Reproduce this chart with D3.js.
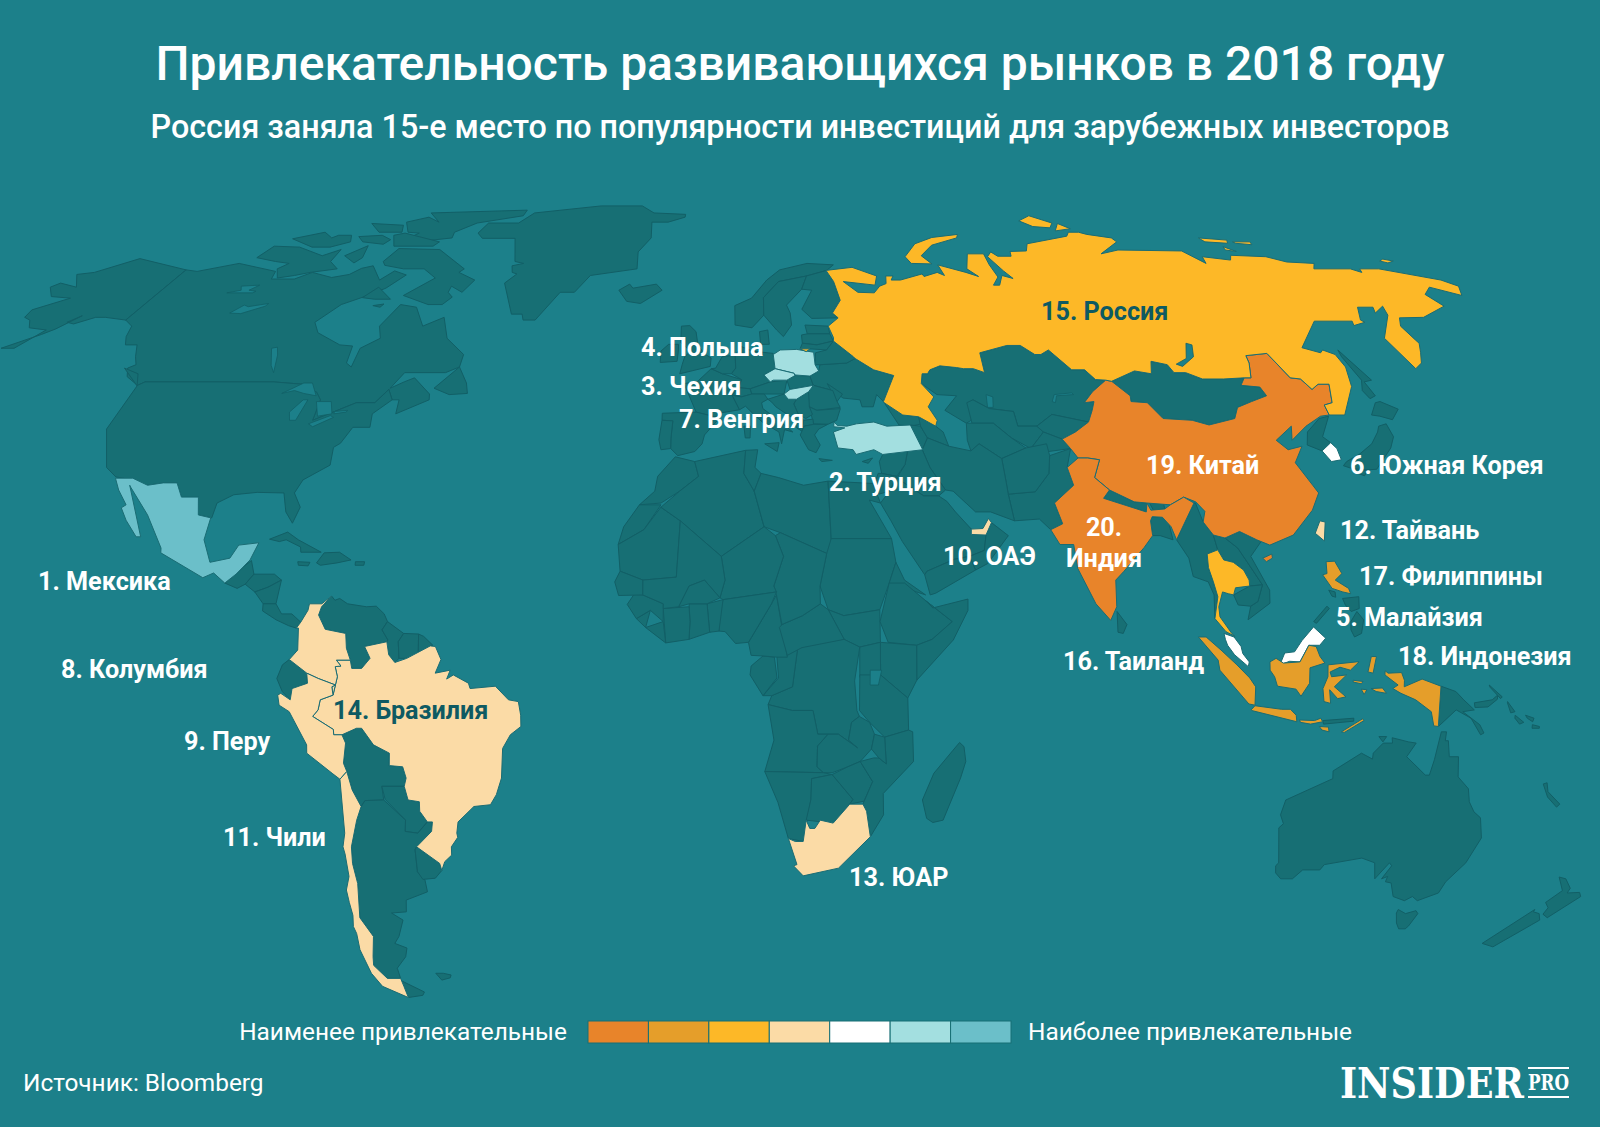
<!DOCTYPE html>
<html><head><meta charset="utf-8"><script src="https://cdn.jsdelivr.net/npm/d3@7"></script>
<style>html,body{margin:0;padding:0;background:#1c808a}svg{display:block}text{font-family:Roboto,sans-serif}</style></head><body>
<svg id="c" width="1600" height="1127"></svg>
<script>
const titleText="Привлекательность развивающихся рынков в 2018 году";
const subtitleText="Россия заняла 15-е место по популярности инвестиций для зарубежных инвесторов";
const legendLow="Наименее привлекательные", legendHigh="Наиболее привлекательные", sourceText="Источник: Bloomberg";
const rankedCountries=["Мексика","Турция","Чехия","Польша","Малайзия","Южная Корея","Венгрия","Колумбия","Перу","ОАЭ","Чили","Тайвань","ЮАР","Бразилия","Россия","Таиланд","Филиппины","Индонезия","Китай","Индия"];
const rankBins=[6,5,5,5,4,4,5,3,3,3,3,3,3,3,2,2,1,1,0,0];
const binColors=["#e8842a","#e59e2a","#fdb827","#fbdba6","#ffffff","#a3dfe0","#6bbfc9"];
const latGrid=[0,5,10,15,20,25,30,35,40,45,50,55,60,65,70,75,80,85,90];
const plenX=[1,.9986,.9954,.99,.9822,.973,.96,.9427,.9216,.8962,.8679,.835,.7986,.7597,.7186,.6732,.6213,.5722,.5322];
const plenY=[0,.062,.124,.186,.248,.31,.372,.434,.4958,.5571,.6176,.6769,.7346,.7903,.8435,.8936,.9394,.9761,1];
const northAmerica=[
["США","-159,54.5 -156,57.8 -160.6,58.2 -162.5,59.6 -164.5,60.1 -165,61.5 -159,63.7 -164.3,64 -167.7,65.8 -166.5,66.6 -161,65.8 -165.4,68.3 -161.5,68.7 -154.6,71.5 -138,69.2 -139.4,59.6 -145,60.1 -147.3,60.1 -151,58.9 -153,59.2 -151,60.4 -154,58 -156,57 -162,54.5"],
["Канада","-138,69.2 -134.6,68.9 -125.8,70.5 -113.8,68.9 -113,67.4 -107,67.4 -103.8,68.7 -97.6,67.7 -93.6,68.3 -91.6,69.5 -89,70 -84.6,67.2 -82.3,69 -78.5,68.2 -81.5,65.6 -85.8,63.9 -90,62.5 -93.5,59.2 -91.2,57.3 -84.4,55.1 -81.3,54.9 -80.8,51.9 -79.3,51.2 -79.3,54.5 -75.8,56.3 -77.5,58.5 -75.3,62.5 -71,62 -67.2,58.5 -63,60.1 -60.2,56.3 -55,53.4 -55,51.2 -57.7,50.2 -66.8,50.2 -68.8,47.5 -66.2,48.6 -64.2,49.3 -59.8,46.5 -59.5,45.5 -65.8,43.1 -66,45.5 -67.5,45.5 -69,47.3 -71,45 -75,45 -79,43.5 -83,42 -83,45.5 -84.5,46.8 -88.5,48.2 -95,48.6 -123.3,48.6 -124.5,48 -128,49.5 -129.3,51 -128,51.6 -129.5,53 -131.3,55.1 -134,55.1 -135.6,56.6 -136.6,58.5 -139.4,59.6"],
["США","-123.3,48.6 -95,48.6 -88.5,48.2 -84.5,46.8 -83,45.5 -83,42 -79,43.5 -75,45 -71,45 -69,47.3 -67.5,45.5 -70.8,43.1 -70.4,40.8 -74,40.8 -75.6,38.1 -76.8,37.4 -76.5,34.4 -81.3,31.9 -82.4,29.7 -80.7,27.3 -81.7,24.6 -83.4,26.5 -84.5,29.7 -89.9,29.8 -94.5,29.4 -97.5,28 -97.9,25.5 -100.7,26 -101.5,29 -104.9,29 -106.6,31.4 -109.4,31.4 -112.4,31 -117.8,32.2 -119.4,32.4 -122,34 -125.6,40.5 -124.5,48"],
["Мексика","-119.4,32.2 -115.9,32.2 -112.4,31 -109.4,31.4 -106.6,31.4 -104.9,29 -101.5,29 -100.7,26 -98.1,25.5 -98.7,21.8 -96.9,18 -93.1,18.7 -91.7,20.9 -87.8,21.3 -89.1,18.4 -90.3,17.2 -91.5,16 -93.5,14.5 -95.9,16.2 -97.9,15.4 -106.8,19.6 -106.9,20.4 -110.8,26 -115.7,30.7 -116,31 -111.3,22.3 -112.2,22.3 -114.8,25.1 -116.4,27.2 -115.6,27.7 -117.9,30.2"],
["Гватемала","-93.5,14.5 -91.5,16 -90.3,17.2 -88.8,18.3 -88,16 -89.5,14.3 -91,13.6"],
["Гондурас","-89.5,14.3 -88,16 -84,16 -82.5,15 -85,13.8 -87.5,13"],
["Никарагуа","-87.5,13 -85,13.8 -82.5,15 -83.2,11 -85.7,11"],
["Панама","-85.7,11 -83.2,11 -82,9.3 -80,9.3 -78.2,7.9 -79,6.9 -80.5,7.3 -83,8.3 -85.7,9.8"],
["Куба","-85.8,21.9 -82.4,23.1 -80.1,21.8 -75.3,19.7 -75.7,19.7 -79.3,19.7 -79.5,20.6 -82.5,21.8 -83.8,21.5"],
["Гаити","-76,17.9 -74.7,19.6 -71.7,19.7 -69.3,18.4 -72,17.9 -75.2,17.5"],
["Ямайка","-79.7,18.1 -77.3,18 -77.6,17.4 -79.5,17.5"],["Пуэрто-Рико","-68.4,18.1 -66.6,18.1 -66.7,17.5 -68.4,17.5"],
["Виктория","-122.9,71.7 -121.9,74.1 -114.4,73.9 -105.5,72.1 -102,73.4 -101.6,70.9 -98,69.4 -104.4,68.7 -107.8,68.1 -111.7,67.6 -114,69.4 -112.3,70.5 -116.6,70.9"],
["Сомерсет","-99.3,72.1 -95.4,74.2 -93.9,71.7 -94.9,70.6"],
["Баффинова","-87.3,70.9 -86,73.6 -74.3,73.4 -64.1,69.4 -65,68.7 -59.8,67.2 -61.5,64.8 -65,66 -65,64.8 -63.4,63.9 -65,62.5 -68.5,62.5 -75.9,64.2 -70.4,67.6 -74.8,69.4 -80.3,69.4 -86,70.1"],
["Саутгемптон","-85.9,63.8 -83.5,65.8 -78.6,63.5 -82.6,63.5"],["Коутс","-82,62.3 -79.5,62.6 -80,62"],
["Элсмир","-91.8,79.5 -86.7,80.8 -81.8,79.5 -87.7,82 -57.6,82.8 -57.4,81.2 -69.8,79.3 -74.2,77.2 -73.4,75.9 -80.6,75.2 -86,75.9 -84.4,77 -88,77.2"],
["Мелвилл","-119.4,75.7 -112.6,77.2 -108.4,75.9 -107.4,76.5 -103.6,76.5 -101.5,75 -105.8,73.9 -110.9,73.9"],
["Батерст","-101,76.2 -94.6,76.5 -90.7,75.5 -91.5,74.5 -98,75"],["Аксель-Хейберг","-102,79.2 -91.7,78.8 -89.8,77.2 -96.6,77.2"],
["Девон","-91.2,76.5 -88.6,77 -76,75 -76.9,74.1 -88,74.1"],
["Ньюфаундленд","-59.2,47.5 -55,51.2 -52.4,48.4 -51.6,46.6 -55.5,46.4"],
["Ванкувер","-130,51 -124.5,47.9 -126,50"],
["Гренландия","-67,77 -66.3,79.3 -57.1,79.3 -54.5,82 -34.3,84 -20.6,84 -16.2,82 -6,81.6 -6.1,80.8 -11.2,79.5 -16.2,79.5 -15.5,75.9 -18.5,72.9 -18,69.4 -30,68.1 -33,64.8 -36.6,64.8 -40.8,59.6 -43.7,59.6 -44.4,60.7 -47,60.7 -51.7,66.6 -49.5,68.4 -50.9,68.7 -51.7,70 -48.9,70.5 -51.5,70.9 -55,75.8 -64.5,75.8"],
["Исландия","-21.8,65.2 -19.3,66.4 -18.3,65.6 -12.4,66.4 -10.8,65.2 -15.9,62.7 -19.4,63.1"]];
const southAmerica=[
["Венесуэла","-72.5,12.3 -74.3,10.5 -74.8,9.1 -73.4,6.7 -69.4,6 -69.2,3.5 -68.4,1.5 -68.1,.1 -66.2,.1 -64.6,1.8 -65.7,3.8 -61.4,4.6 -61.2,4.9 -62.4,6.6 -61.4,8 -62.1,9.3 -63.7,10.6 -65.6,10.5 -69.3,11 -70.9,11.9 -71.8,11.6"],
["Гайана","-61.4,8 -58.2,6 -59.2,4.6 -59,1.8 -59.8,1.1 -61,2.4 -61.4,4.6 -61.2,4.9 -62.4,6.6"],
["Суринам","-58.2,6 -55.3,5.9 -55.3,2.1 -57.5,1.8 -59,1.8 -59.2,4.6"],
["Гвиана","-55.3,5.9 -54.3,5.5 -52.5,4 -53,3.9 -54.8,2.1 -55.3,2.1"],
["Эквадор","-80.2,1.6 -76.8,-.7 -76.7,-2.4 -79.7,-3.3 -80.1,-5.2 -81.6,-3.8 -82.6,-1.6 -81.5,.7"],
["Боливия","-70.4,-11.1 -67.5,-10 -66.5,-10 -64.4,-12.8 -61.4,-14.2 -61.6,-16.3 -59,-16.5 -58.5,-18.4 -59,-19.8 -63.4,-19.8 -63.3,-22.1 -67,-22.2 -67.9,-23.2 -69.3,-20.4 -70,-17.3 -70.5,-15.9 -69.8,-12.5"],
["Парагвай","-63.4,-19.8 -59,-19.8 -58.5,-22.1 -56.3,-22.4 -56.4,-24 -55.1,-25.8 -57.3,-27.7 -59.8,-27.4 -59.4,-25.5 -63,-22"],
["Аргентина","-67,-22.2 -63.3,-22.1 -59.4,-25.5 -59.8,-27.4 -57.3,-27.7 -55.1,-25.8 -54.1,-25.8 -54.5,-27.4 -57.9,-30 -58.3,-30.5 -58.6,-34.2 -57.4,-35.6 -57.4,-37.6 -62.2,-39 -62.8,-41 -66,-41.2 -64,-42.4 -65.9,-45.2 -67.3,-46.4 -65,-47.2 -65.9,-48.7 -68.7,-50.7 -68.9,-52.5 -71.9,-52.5 -73.7,-50.2 -73.1,-48.7 -71.4,-45.2 -73,-42 -71.4,-36.2 -71.5,-32.8 -71,-30 -69.1,-25.5 -67.9,-23.2"],
["Аргентина","-69.2,-52.8 -64.7,-54.9 -65.4,-55.5 -69,-55.9 -68.9,-53.9"],
["Уругвай","-57.9,-30 -53.8,-32.8 -53.6,-34 -55.2,-35.3 -57.8,-35.5 -58.6,-34.2 -58.3,-30.5"],
["Фолкленды","-60.5,-51.6 -58.8,-51.6 -57.2,-51.9 -57.6,-52.4 -59.7,-52.8"],
["Бразилия","-65.7,3.8 -61.4,4.6 -61,2.4 -59.8,1.1 -57.5,1.8 -53,3.9 -52,3.8 -50.9,1.6 -52,-.7 -49.1,-.2 -49.8,-1.7 -48.5,-1 -45.6,-2.4 -45.3,-3.3 -40.4,-2.9 -37.9,-5.2 -36,-5.5 -35.6,-7.8 -35.6,-9.7 -37.7,-11.1 -39.3,-13.4 -39.8,-18.4 -41,-21.2 -42.3,-22.9 -45.6,-23.2 -49,-25.8 -49.5,-27.7 -49.4,-28.4 -50.9,-30 -51.1,-31.4 -52.7,-32.5 -53.6,-34 -53.8,-32.8 -57.9,-30 -54.5,-27.4 -54.1,-25.8 -55.1,-25.8 -56.4,-24 -56.3,-22.4 -58.5,-22.1 -59,-19.8 -58.5,-18.4 -59,-16.5 -61.6,-16.3 -61.4,-14.2 -64.4,-12.8 -66.5,-10 -67.5,-10 -70.4,-11.1 -72,-11.1 -72,-10.2 -75.9,-8 -74.8,-6.9 -74.3,-5.2 -71.8,-4.4 -70.9,-1.3 -71.3,.4 -70.2,.5 -71.1,1.5 -68.4,1.5 -68.1,.1 -66.2,.1 -64.6,1.8"],
["Колумбия","-72.5,12.3 -74.3,10.5 -74.8,9.1 -73.4,6.7 -69.4,6 -69.2,3.5 -68.4,1.5 -71.1,1.5 -70.2,.5 -71.3,.4 -70.9,-1.3 -71.8,-4.4 -72,-3 -71.3,-2.7 -74.6,-1.6 -76.8,-.7 -80.2,1.6 -78.6,3.2 -78.6,6.9 -79,6.9 -78.2,7.9 -76.9,9.9 -76.7,11 -74.3,11"],
["Перу","-80.1,-5.2 -79.7,-3.3 -76.7,-2.4 -76.8,-.7 -74.6,-1.6 -71.3,-2.7 -72,-3 -71.8,-4.4 -74.3,-5.2 -74.8,-6.9 -75.9,-8 -72,-10.2 -72,-11.1 -70.4,-11.1 -69.8,-12.5 -70.5,-15.9 -70,-17.3 -71.5,-18.6 -72.9,-17.6 -77.5,-14.2 -77.4,-12.8 -80.4,-7.2 -82.3,-6.1 -82.5,-4.4 -81.9,-4.1"],
["Чили","-71.5,-18.6 -70,-17.3 -69.3,-20.4 -67.9,-23.2 -69.1,-25.5 -71,-30 -71.5,-32.8 -71.4,-36.2 -73,-42 -71.4,-45.2 -73.1,-48.7 -73.7,-50.2 -71.9,-52.5 -68.9,-52.5 -68.9,-53.9 -69,-55.9 -73.8,-53.9 -75,-51.6 -75.4,-47.5 -74.8,-44.7 -75,-43.5 -74.3,-41.6 -74.2,-39.4 -74.1,-37.3 -72.8,-35 -72.6,-31.2 -72.7,-30 -71.9,-27.7"]];
const europe=[
["Норвегия","7.5,62.3 7.3,58.7 11.3,58.2 14.4,60.5 14.8,63.8 19.2,66.9 26.8,68 32.5,69.1 34.7,70.2 27.7,70.5 20,69.2 16.2,67.2 11.8,63.7"],
["Швеция","14.4,60.5 14.8,63.8 19.2,66.9 26.8,68 24.8,65.4 20.3,62.4 20.9,60.9 20.8,58.7 18.5,56.6 17.1,57.8"],
["Финляндия","26.8,68 32.5,69.1 33.5,66.9 33.9,63.3 31.2,60.9 32.3,60 25.9,59.9 23.9,61.6 27.3,65.2 24.8,65.4"],
["Дания","13,55.2 13,57.5 15,57.8 15,55.2"],
["Британия","-5.5,50 1.3,51.3 1.5,52.8 0,53.5 -1.5,55 -2,57.5 -3.5,58.6 -5.5,58.5 -5.5,55.5 -3.2,54 -4.5,53 -5,51.7"],
["Ирландия","-10,52 -6.2,52.2 -6,54 -6,55.2 -8.3,55.2 -10,54"],
["Франция","-1.8,43.4 -4.5,48.3 -1.5,48.7 1.5,50.9 4,50 8.2,49 7.5,47.6 6,46.3 7.5,43.8 3,43.2 3.2,42.4"],
["Испания","-9,43.2 -1.8,43.4 3.2,42.4 0,39.5 -0.5,38 -2,36.7 -5.5,36 -7,37.2 -7,39 -6.7,41.9 -9,42"],
["Португалия","-9,42 -6.7,41.9 -7,39 -7,37.2 -9,37 -9.5,38.7"],
["Бенилюкс","1.5,50.9 2.5,51 4,53 7,53.3 7,51 6,50 4,50"],
["Германия","7,53.3 8.5,54.8 11,54 15.7,53.6 15.8,50.9 13.2,49.8 14.5,48.6 10,47.4 7.5,47.6 8.2,49 6,50 7,51"],
["Швейцария","6,46.3 7.5,47.6 10,47.4 10.3,46.5 8,46"],
["Австрия","10,47.4 14.5,48.6 18.2,48.9 17.3,46.5 13,46.5 10.3,46.5"],
["Италия","7.5,43.8 6,46.3 8,46 10.3,46.5 13,46.5 13.7,45.6 12.3,45 12.5,44 16,41.8 18.5,40 16.8,40.4 16,38 15.6,40 12.5,41.5 10.5,43 8.8,44.4"],
["Сицилия","12.5,38 15.5,38.2 15,36.7"],["Сардиния","8.3,41 9.7,41 9.5,39 8.5,39"],["Корсика","8.7,42.5 9.5,43 9.4,41.5"],
["Словакия","18.2,48.9 20.1,49.7 23.4,49.6 23.9,48 18.7,47.3"],
["Украина","25.5,50.5 26,51.6 32.1,51.9 34.2,52.7 37.8,50.7 42,49.7 38.6,45.2 37.4,46.4 36.2,44.3 33.8,44.3 33.6,45.5 30,45.8 28,47.1 23.9,48 23.4,49.6"],
["Беларусь","25.4,53.7 28,54.2 30,55.8 33.9,53 34.2,52.7 32.1,51.9 26,51.6 24.9,51.6"],
["Молдова","27,48.3 30,46.5 28.6,45.2"],
["Румыния","23.9,48 28,47.1 28.6,45.2 29.1,44.2 24,43.7 22.5,44.3 21,46"],
["Болгария","22.5,44.3 24,43.7 29.1,44 28,42 26,41.3 23,41.4"],
["Сербия","19.9,45.6 22.7,46.9 22.5,44.3 23,43 21.5,42.3 20,43 19.2,44.8"],
["Хорватия","13.7,45.6 17.3,46.5 19.9,45.6 19.2,44.8 20,43 18.5,42.5 15.3,44.3 14.5,45.1"],
["Албания","18.5,42.5 20,43 21,42 20.7,40 19.4,40.7"],
["Македония","21,42 23,42.2 23,41.3 20.7,40.9"],
["Греция","20,39.5 21,41 23,41.3 26,41.3 24,40.5 23,39.5 24,37.8 23,36.5 21.5,37"],
["Крит","23.5,35.5 26.2,35.2 24,35"],["Кипр","32.3,35 34.5,35.6 33.5,34.7"],
["Эстония","24,58.7 29.5,58.5 29.5,57.1 24.2,57.1"],
["Латвия","22.8,56.9 24.2,57.1 29.5,57.1 30,55.8 26,55.1 22.7,55.4"],
["Литва","22.7,55.4 26,55.1 30,55.8 28,54.2 24.3,54.4 22,54.4"],
["Польша","15.7,53.4 17.4,54.2 21.2,54.3 25,53.8 24.9,51.6 25.5,50.5 23.4,49.6 20.1,49.8 19.9,50.1 15.8,50.9"],
["Чехия","13.2,49.8 15.8,50.9 19.9,50.1 20.1,49.7 18.2,48.9 15.2,48.9 14.5,48.6"],
["Венгрия","17.3,46.5 18.7,47.3 23.9,48 22.7,46.9 19.9,45.6 18.1,45.6"]];
const asia=[
["Грузия","38.6,45.2 42.2,42.9 45.5,42.6 46.5,41.5 43.5,41 41,41.2"],["Армения","43.4,41.2 45.5,41 46.5,39 45,37"],["Азербайджан","45.5,42.6 48.7,41 50,40 50.6,37.6 46.5,39 45.5,41"],
["Казахстан","48.4,50 49.6,50 50.4,50.7 52.9,51.4 56.5,51.1 58,50.9 60.2,50.9 62.4,50.2 63,53.7 69.9,55 73,55 75.4,53.4 76.8,53.4 79,54.2 82.1,50.7 85,50.7 86.4,49 88.6,48.9 84.6,46.9 81.8,45 84,45.2 82.9,43.7 81.2,41.7 74,43 70,41 66,41 66,43.5 61,44 58,45.5 56.5,42 55.3,41.5 51.4,43.7 54.7,46.2 50.5,46.4 47.7,48.3"],
["Узбекистан","56.5,45 58,45.5 61,44 66,43.5 66,41 70,41 71,40 67.5,37.2 64,39 61,41.5 56.5,41.5"],
["Туркмения","55.3,41.5 56.5,41.5 61,41.5 64,39 66.5,37.3 61,35.5 57,38 55,36.8 54.7,38.6"],
["Киргизия","70,41 74,43 81.2,41.7 77.7,40 74.5,38.8 71,40"],["Таджикистан","67.5,37.2 71,40 74.5,38.8 75.7,37.2 71,36.7"],
["Монголия","89.8,48.7 96,50.5 99.4,50 101,52.2 104.2,51.6 104.6,50.2 107.2,50.2 110.1,49.1 114.8,49.1 119.5,49.3 117.8,48 121.7,47.7 122,46.2 118,45.2 114.3,44.2 112.5,42.3 106.4,41.2 103.3,42 97.3,42.3 95.4,45 92,45.2 92.4,46.2"],
["КНДР","126.3,40 130.4,42.3 132.7,42.7 129,39.2 130.1,38.2 127.5,36.8 125,37.8"],
["Непал","80,28.8 81.5,30.2 86,28.2 88.5,28 88,26.5"],["Бангладеш","89,25.7 91,25.6 92,25 92.4,21.8 90,22.5 88.5,22.5 88.5,25"],["Бутан","89,28 91.8,28.2 91.8,27 89.5,26.8"],
["Пакистан","61,29.5 66.5,29.9 70,33 71,36 75.7,37.2 74,34 74.5,31 70,28 71,24.5 68.5,23.5 66.5,25.3 61.5,25"],
["Афганистан","61,35.5 66.5,37.3 71,38 71,36 70,33 66.5,29.9 61,29.5 61,31.5"],
["Иран","45,37 46.5,39 50.6,37.6 55,36.8 57,38 61,35.5 61,31.5 61,29.5 61.5,25 57,26.5 54,26.5 50,30 48.5,30.2 46,34 45,37"],
["Ирак","42,37 45,37 46,34 48.5,30.2 47,29.2 44,29.2 39,32.2 41,34.5"],
["Сирия","36.7,36.2 42,37 41,34.5 39,32.5 36,33 35.8,35"],["Иордания","36,33 39,32.5 37.2,30 35,29.5 34.5,31.5 35.3,33"],
["Сауд. Аравия","35.2,28 37.2,30 39,32.2 44,29.2 47,29.2 48.5,28.3 50,26.5 52.8,23.6 55.6,22.6 55,20 52,19 49,18.5 43.5,16.5 43,15.9 39,21.5 37,25"],
["Оман","56.9,24.7 60,22.5 55.5,17.8 53,16.7 52,19 55,20 55.6,22.6"],["Йемен","43,15.9 43.5,16.5 49,18.5 52,19 53,16.7 45,12.8 43.9,12.5"],
["Мьянма","93.1,21.8 97.9,28 98.2,28 98.9,24.8 100.5,22.6 100.9,20.1 98.7,19.4 98.6,17.1 99.2,14.7 99.8,12.2 98.9,8.5 99.1,12.5 98.2,14.7 95.4,15.6 95,18.7"],
["Лаос","102.7,22.1 104.9,20.4 106.8,17.3 108.7,14.2 106.2,14 105.4,16.7 103.6,18 101.8,18.4 100.9,20.1 100.5,22.6"],
["Вьетнам","102.7,22.1 105.8,23.2 109.7,21.5 107.2,19 110,13.3 109.8,11.1 105.3,8.3 106,10.6 107.5,11.4 108.7,14.2 106.8,17.3 104.9,20.4"],
["Камбоджа","102.9,12.5 106.2,14 108.7,14.2 107.5,11.4 106,10.6 103.6,10.8"],
["Шри-Ланка","80,9.7 81.8,7.5 81,6 80,6.2"],
["Сахалин","145.5,54.2 147.3,48.9 145.4,48.6 145.6,46.2 144,45.7 143.6,47.1 145.1,48.9 145,53"],
["Япония","144.5,45 145.7,45.2 148.5,43.9 145.8,42.1 143.6,42.7 142,42.9"],
["Япония","142,41 143.9,41.4 143.8,39.2 142,37.3 137,33.7 133,33.5 130.5,34.3 131.5,35 135,36.3 138.5,38 141,40"],
["Япония","132.5,33.8 135,33.5 134,32.6 132.8,33"],
["Миндоро","121.5,13.3 122.7,13 122.7,12.1 122,12.3"],["Висайи","124,11.9 127.2,12.2 127,10.2 125.4,9.7 124.4,10.8"],["Минданао","125.2,8 126.5,9.7 127.7,8.3 127.1,6 125.7,5.4 125.1,6.6"],["Палаван","118,8 120.8,10.6 121.2,10.2 118.5,7.7"],
["Папуа","142.3,-2.9 145.2,-3.8 146.8,-5.2 149,-6.9 146.8,-7.2 150.3,-9.4 151.3,-10.8 150.7,-11.1 148.5,-8.3 145.5,-6.9 142.3,-9.7"],
["Нов. Британия","148.9,-5.7 152.3,-5.2 153.3,-4.4 153.3,-5.1 151.6,-6.4 149.1,-6.5"],["Нов. Ирландия","151.6,-2.7 154.2,-4.7 153.9,-5 151.8,-3.1"],
["Соломоновы","155.3,-5.5 156.9,-7.2 156.1,-7.4 155.3,-5.7"],["Соломоновы","157,-7.8 158.8,-9 158,-9.3 157,-8.3"],["Соломоновы","159,-7.8 160.7,-8.3 160.5,-8.9 159.4,-8.3"],["Соломоновы","160.5,-9.4 161.9,-9.7 161.9,-10 160.5,-10"],
["Флорес","119.8,-8.7 125.8,-8.3 125.8,-8.8 120,-9.3"],
["Турция","27.4,41.7 28,41.1 30,41 32.1,41.4 35.8,41.7 38.4,41 43.4,41.2 45.1,37 36.7,36.2 35,37 31.2,36.2 30.7,37 27.6,37.3 27,40 29.5,40.7 27.2,40.9"],
["ОАЭ","52.8,23.6 55.1,23.7 56.4,25.4 56.9,24.7 55.6,22.6 52.7,22.7"],
["Китай","74.5,38.8 77.7,40 81.2,41.7 82.9,43.7 84,45.2 81.8,45 84.6,46.9 88.6,48.9 89.8,48.7 92.4,46.2 92,45.2 95.4,45 97.3,42.3 103.3,42 106.4,41.2 112.5,42.3 114.3,44.2 118,45.2 122,46.2 121.7,47.7 117.8,48 119.5,49.3 121,49.3 122.9,51.9 123.4,53.2 128.6,53.6 129.7,49.3 131.8,49.1 132.8,47.3 134.9,48.2 137.3,48.2 135.2,45 133.2,44.6 133,42.9 131,42.7 126.7,41 122.3,38.6 123.6,41 119,38.6 120.6,37 123.8,37.6 120.9,34.8 122.8,30.9 123.4,29.7 121.2,26.8 116.3,22.6 111.3,20.9 108.9,21.8 105.8,23.2 102.7,22.1 100.5,22.6 98.9,24.8 99.7,26.6 98.3,28.2 96.1,29 93.1,27.7 88.5,28 86,28.2 81.5,30.2 79.1,32.3 81,35.3 78.7,35.6 76.7,35.6 75.7,37.2"],
["Китай","109.5,18.7 111.4,19.4 111.4,18.7 110.1,18.1"],
["Индия","76.7,35.6 78.7,35.6 81,35.3 79.1,32.3 81.5,30.2 80,28.8 88,26.5 88.5,28 89,26.8 91.8,27 93.1,27.7 96.1,29 97.9,28 93.1,21.8 92.4,24 91,25.6 89,25.7 88.5,25 88.5,22.5 86.5,20.5 82,16.5 80.2,15 80,10.5 78.7,8.2 76,11 73,17 72.7,21 70,21 68.5,23.5 71,24.5 70,28 74.5,31 74,34"],
["Южная Корея","127.5,36.8 130.1,38.2 130.8,37.2 130.6,35.3 128.4,35"],
["Тайвань","120.7,22.9 122.1,25 123.1,24.8 122.2,21.6"],
["Таиланд","98.7,19.4 100.9,20.1 101.8,18.4 103.6,18 105.4,16.7 106.2,15 106.2,14 103.4,13.7 102.9,12.5 101.9,12.7 100.8,13 99.8,10.5 99.9,8.8 102,6 102.6,5.5 100.9,6.3 98.9,8.5 99.8,12.2 99.2,14.7 98.6,17.1"],
["Малайзия","100.5,6 102.4,5.4 103.7,3.8 104,2.6 105.2,1.2 105,.4 102.4,2.4 101.1,4 100.7,5"],
["Малайзия","111.1,.7 112.1,2.7 114,2.9 115.5,4.8 117.9,7.1 120.1,5.2 118.9,4 116.8,4 115,1.2 113,1.3"],
["Индонезия","109.2,1.2 110.4,1.8 111.8,1 115,1.2 116.8,4 118.2,3.8 118.9,2.1 119.8,1 116.9,.2 116.9,-2.4 115.3,-4.6 114.3,-3.4 110.7,-2.9 110.1,-1.3 109.2,-.2"],
["Индонезия","95.5,5.4 97,5.4 99.8,3.2 102.8,.7 105.3,-1.5 106.5,-3 106.5,-6.1 105.3,-5.9 99.5,-.2 99.2,1.5"],
["Индонезия","105.8,-6.9 106.5,-6.2 111.7,-6.8 113.4,-6.8 114.6,-7.8 114.8,-8.9 105.9,-7"],
["Индонезия","115.3,-8.6 118.2,-8.7 119.4,-8.3 119.8,-8.9 117.5,-9.3 115.5,-9"],["Индонезия","123.6,-10.6 127.5,-8.4 127.8,-8.7 124.2,-10.7"],["Индонезия","119.2,-9.7 121,-9.8 121.2,-10.6 119.8,-10.3"],
["Индонезия","120.4,.7 125.9,1.2 126.4,1.2 124.7,-.2 122.7,.3 120.8,-.5 121.1,-1.3 124,-1 121.7,-3 124,-4.7 122.4,-5 120.8,-3.5 121.1,-5.8 119.8,-5.5 119.5,-3.3 120.4,-1.3"],
["Индонезия","128.1,-.5 128.8,2.1 129.8,2.1 129.1,-.7"],["Индонезия","125.3,-1.9 127.2,-2.1 126.9,-2.5 125.3,-2.2"],["Индонезия","128.8,-3.3 131,-3.2 131.8,-4.1 129.8,-3.8"],["Индонезия","126.9,-3.4 128,-3.5 127.5,-4.3"],
["Индонезия","131.4,-.3 132,-.7 134.6,-.6 135.2,-1.9 135.2,-3 138.6,-1.7 142.3,-2.9 142.3,-9.7 141.4,-9.6 140.7,-7.2 137.5,-5.2 134.6,-4.1 133,-3.3 134,-2.7 131.4,-1"],
["Филиппины","121.8,18.1 123.5,18.2 124.5,16.1 123,15 125.4,13.6 125.7,12.7 124.2,13 122.2,13.6 120.7,15.9 121.6,16.1"],
["Россия","22,54.4 24.3,54.4 23.3,53.9"],
["Россия","32.3,69.1 39.5,69.7 45.2,68 43.9,66.2 36,66.9 38.9,64.8 43,64.7 45,66 46.9,66.5 47.6,68 49.5,68 48.6,67.2 51,67.2 57.4,68.4 57.6,67.9 61.6,68.7 63.1,68.1 62.8,70.2 69.2,68.7 71.9,67.9 70,69.4 72.9,72.5 77.4,72.5 76.7,70.2 76.9,67.8 74.4,66.2 76,66.2 78.2,68.1 80.6,67.5 79.4,69 77.9,71.9 79.8,72.9 80.8,72 84.5,72 85.3,73 90,73.1 92,74.6 106,76.3 108,77.2 111,77.2 112.6,76.7 118.3,75.9 118.2,75 110,72.5 115.9,73.3 133.4,73.1 135.6,70.5 137,71.9 143.5,71.2 145.4,72.2 154.5,71.9 158,70.8 164.8,70.5 162.6,69.4 172.3,69.4 174,68.7 174.8,69.4 179.9,69.4 191.7,67.2 193.7,66 190.9,64.2 185.8,65.8 182,64.4 182.7,62.2 174,60.1 168,60 166,58.5 165.8,56 165.8,55.4 164,53.8 161.8,51.9 159.3,50.9 159,56.3 166,60.5 167.5,62.2 163.6,60.9 164.8,62 161,62 158,59.6 158.5,59.2 155,58.6 155.7,59.4 146.6,59.4 137.7,54.6 141,53.7 142,54.2 144,53.4 143.9,51.2 141.9,47.8 136.3,42.9 133,42.9 133.2,44.6 135.2,45 137.3,48.2 134.9,48.2 132.8,47.3 131.8,49.1 129.7,49.3 128.6,53.6 123.4,53.2 122.9,51.9 121,49.3 119.5,49.3 114.8,49.1 110.1,49.1 107.2,50.2 104.6,50.2 104.2,51.6 101,52.2 99.4,50 96,50.5 89.8,48.7 88.6,48.9 86.4,49 85,50.7 82.1,50.7 79,54.2 76.8,53.4 75.4,53.4 73,55 69.9,55 63,53.7 62.4,50.2 60.2,50.9 58,50.9 56.5,51.1 52.9,51.4 50.4,50.7 49.6,50 48.4,50 47.7,48.3 49.7,46 48,44.3 49.3,42 48.7,41 45.5,42.6 42.2,42.9 38.7,45 38.6,45.2 42,49.7 37.8,50.7 34.2,52.7 33.9,53 30,55.8 30.2,56.4 29.5,58.5 32.3,60 31.2,60.9 33.9,63.3 33.5,66.9"],
["Россия","55.2,71.9 60,74.6 66.2,76 74.5,76.7 73.3,75.9 64.5,74.3 59.8,72.1 61.4,70.4 55.9,70.5"],
["Россия","97.3,79.8 102.7,81.2 106.7,79.3 104.2,78.2 99.5,78.5"],["Россия","108.2,79.2 110,78 104.6,77.5"],
["Россия","143.6,75.9 150.7,75.4 149.4,74.7 143.5,75"],["Россия","151.4,75 156.4,75 155.7,74.4 151.7,74.7"],["Россия","146.7,74 148.5,73 146,73.3"],["Россия","183.7,71 185.5,71.4 187.4,71 185,70.6"]];
const africa=[
["Марокко","-6,35.8 -2,35 -1.2,32.5 -5,30 -8.7,28 -13,27.7 -10,30 -9.5,32.5"],["Зап. Сахара","-13,27.7 -8.7,27.7 -12,23.5 -17,21 -16,24"],
["Мавритания","-17,21 -12,23.5 -8.7,27.3 -4.8,25 -5.5,15.5 -12,15 -16.5,16.5"],
["Алжир","-2,35 8.5,36.9 8,33 10,30 11.8,24 3.3,19 -4.8,25 -8.7,27.3 -5,30 -1.2,32.5"],["Тунис","8.5,36.9 11,37 10.3,34 11.5,33 10,30 8,33"],
["Ливия","11.5,33 15,32.3 20,31 25,31.7 25,20 24,19.5 15,23 11.8,24 10,30"],["Египет","25,31.7 34,31.3 35.2,28 33,28.5 36,23.5 36.9,22 25,22"],
["Судан","25,22 36.9,22 37.5,18 36,14.5 34,10 27,9 24,10 22.5,14 24,19.5"],["Юж. Судан","24,10 27,9 34,10 34,4.5 30,3.7 27,5"],
["Эритрея","37.5,18 39,15 43,12.5 36,14.5"],["Эфиопия","36,14.5 39,14.5 43,11.5 48,8 44,5 41,4 35.5,4.5 34,8"],["Сомали","43,11.5 44.3,10.3 51.2,11.8 51.1,9.9 48.1,4.9 41,-1.9 41,4 44,5 48,8"],
["Кения","34,4.5 41,4 41,-1.9 39.3,-4.9 34,-1"],["Уганда","30,3.7 34,4.5 34,-1 30,-1.4"],["Танзания","30,-1 34,-1 39.3,-4.9 39.6,-10.3 35,-11.5 32,-9 30,-7"],
["ДРК","12.3,-6 13,-4.5 17,-3 18,3.5 19,4.7 27,5 30,3.7 29,-2 29.5,-7 30,-8 28.5,-9 28,-12 29.8,-13.3 26,-11 22,-11 21,-7 17,-7"],
["Конго","11.3,-4.5 13,-4.5 17,-3 18,3.5 14,2 14.3,-1.5"],["Габон","9,0.5 11.3,2.2 13.5,2 14,-1.5 11.3,-4.5 8.8,-1"],
["Камерун","8.5,4.5 9,2.3 11.3,2.2 14,2 16,2 15,7 14,12.5 13,11"],["ЦАР","14.5,7 16,2.3 18.8,3.6 27,5 24,10 22.5,11 19,9 15,7.5"],
["Чад","14,12.5 15,7.5 19,9 22.5,11 22.5,14 24,19.5 15,23 14,22.5 15.5,19 13.5,14"],["Нигер","3,12 3.6,11.7 14,13 13.5,14 15.5,19 14,22.5 11.8,24 3.3,19 4,15"],
["Нигерия","2.8,6.4 2.8,9 3.6,11.7 14,13 13,11 8.5,4.5 6,4.3 4,6.3"],["Бенин","1,6.2 2.8,6.4 3.6,11.7 0.5,11"],["Гана","-3,5 1,6.2 0.5,11 -3,11 -2.8,8"],
["Кот-д'Ивуар","-7.5,4.4 -3,5 -2.8,8 -3,10.5 -8,10.2"],["Либерия","-11.4,7 -7.5,4.4 -8,8"],["Сьерра-Леоне","-13.2,8.5 -11.4,7 -10.5,9.9"],
["Гвинея","-15,10.9 -13.2,8.5 -10.5,9.9 -8,8 -8,11 -12,12.5 -13.7,12.6"],["Сенегал","-17.5,14.7 -16.5,16.5 -12,15 -12,12.5 -16.7,12.4"],
["Мали","-12,15 -5.5,15.5 -4.8,25 3.3,19 4,15 3,12 0,15 -3,14 -5,10.5 -8,10.2 -8,11 -12,12.5"],["Буркина-Фасо","-5,10.5 -3,11 0.5,11 3,12 0,15 -3,14"],
["Ангола","12.3,-6 17,-7 21,-7 22,-11 24,-11 22,-13 22,-16.5 23.3,-17.5 13,-17.3 11.8,-17.3 13.5,-12"],
["Замбия","22,-13 24,-11 26,-11 29.8,-13.3 28,-12 28.5,-9 30,-8 32,-9 33,-11 32.5,-13.5 30.4,-15.6 28,-16.5 25,-17.5 23.3,-17.5 22,-16.5"],
["Намибия","11.8,-17.3 23.3,-17.5 25,-17.8 21,-18.5 21,-22 19.8,-29.1 16.8,-28.6 14.5,-22.5"],["Ботсвана","21,-18.5 25,-17.8 29.3,-22 28.7,-22.8 25.6,-26 20.2,-25.5 21,-22"],
["Зимбабве","25,-17.8 28,-16.5 30.4,-15.6 33,-19 31.5,-22.3 28.7,-22.8 29.3,-22"],["Мозамбик","39.6,-10.3 40.4,-10.6 40.8,-15.6 35.2,-21 35.5,-24.6 33.2,-28.3 32.1,-24 31.3,-22.8 33,-19 30.4,-15.6 33,-15 34,-15 35.5,-16 35,-11.5"],
["Малави","33,-11 35,-11.5 35.5,-16 34,-15 32.5,-13.5"],
["ЮАР","16.8,-28.6 18.2,-29.1 19.8,-29.1 20.2,-25.5 21,-26.9 22,-26.9 23,-25.5 25.6,-26 28.7,-22.8 31.3,-22.8 32.1,-24 33.2,-28.3 27.3,-33.6 20.2,-34.9 18.1,-33.2 18.8,-33"],
["Свазиленд","30.9,-26.3 32.4,-26.3 32.4,-27.4 31,-27.4"],
["Мадагаскар","43,-22.1 44.9,-17.6 48.4,-13.7 49.6,-12.4 50.5,-13.1 51,-15.6 50.2,-18.4 47.4,-25.5 45.4,-25.9 44.1,-25.2"]];
const oceania=[
["Австралия","114.2,-24.6 114.7,-22.1 123.2,-18.5 123,-17.2 128,-14.2 130.3,-15.2 130.3,-14.2 132,-12.5 133.8,-12.5 133.6,-11.6 136.9,-12.3 138.4,-12.5 136.9,-14.8 141.2,-17.9 142,-17.9 142.4,-15.3 143,-10.6 144,-10.6 144,-12.1 144.6,-12.1 145.2,-14.8 147,-14.8 147.7,-18.2 150.2,-20.2 151,-22.4 152.4,-24.1 154,-25.1 155.6,-28.5 154.6,-32.7 152.4,-35.9 152.2,-37.8 148.7,-39.1 147.2,-38.4 146,-39.1 143.2,-38.4 141.3,-36.1 140,-35.9 139.9,-35 138.9,-35.4 139.8,-33.2 139.1,-32.7 137.5,-35.4 136.1,-32.7 133.1,-31.9 126,-33 125.5,-33.9 122,-33.9 120.6,-35.4 118.2,-35.4 116.7,-34.4 116.2,-33.2 116.6,-32.7 114.5,-26.8 115.2,-26.1"],
["Мелвилл (Австр.)","131,-11.4 132.5,-11.4 131.9,-12.3"],
["Тасмания","145.8,-40.6 147.9,-41.3 149.7,-40.8 150.5,-41.3 150.3,-43.4 150,-43.9 148.6,-43.9 147.3,-42.9 145.9,-41.2"],
["Нов. Каледония","164.7,-19.4 165.4,-19.2 166,-20.7 169,-22.8 168.5,-23.3 166.2,-21.6"],
["Нов. Зеландия","175.1,-35.1 176.7,-35.4 178.9,-37 178.9,-37.8 181.4,-37.7 182.2,-38.4 178.5,-42 177,-41.4 177,-40.3 175.7,-39.4 177.6,-37.4"],
["Нов. Зеландия","169,-46.4 174.5,-40.6 174.6,-41 176.1,-41.3 177.3,-42.4 172,-47"]];
const lakes=[
["Большое Медвежье","-121,64.7 -118,65.2 -119,66 -114.5,66.2 -116,65.2 -114,65 -114.5,64.7"],
["Большое Невольничье","-115.8,60.9 -113.9,62.4 -112.6,62.1 -108.2,62.7 -108.5,62.2 -113,60.8"],
["Виннипег","-99.7,54.5 -98.5,54.7 -97.4,53.3 -96,50.2 -97.5,51.5"],
["Верхнее","-92,46.6 -88.2,48.4 -86.3,48.4 -84.3,46.2 -87.2,46.6 -89.5,47.1"],
["Мичиган","-87.9,42 -88.6,43.4 -86.7,45.5 -85.7,45.5 -86.6,42"],
["Гурон","-83.7,45.2 -80.5,45.2 -79.4,43.1 -82.3,42.7"],
["Эри","-83.6,41.4 -79.6,42.8 -78.8,42.5 -82.5,40.9"],
["Онтарио","-79,43.5 -76.3,43.7 -76.5,43.4 -79,43.1"],
["Виктория","32,-.2 34.2,-.2 33.6,-2.7 32,-2.7"],
["Балхаш","75,45.2 76,46.4 80,46.7 80.2,46.4 76.4,46.2 75.6,45"],
["Аральское","61.2,46.4 62.5,46 61.9,44.2 60.7,44.2"],
["Байкал","111.7,55.4 112.8,55.1 111.3,53 107.4,51.3 106.3,51.7 109.4,52.7"]];
const labelTexts=rankedCountries.map((n,i)=>`${i+1}. ${n}`);

const W=1600,H=1127,bg="#1c808a";
const svg=d3.select("#c").attr("viewBox",`0 0 ${W} ${H}`);
svg.append("rect").attr("width",W).attr("height",H).attr("fill",bg);
const xFactor=d3.scaleLinear().domain(latGrid).range(plenX);
const yFactor=d3.scaleLinear().domain(latGrid).range(plenY);
const x0=704.5,y0=669,pxPerDeg=5.18,yUnit=478;
const proj=d3.geoTransform({point(lon,lat){
  const a=Math.abs(lat);
  this.stream.point(x0+lon*pxPerDeg*xFactor(a), y0-Math.sign(lat)*yFactor(a)*yUnit);
}});
const path=d3.geoPath(proj);
const parse=s=>{const r=s.split(" ").map(p=>p.split(",").map(Number));r.push(r[0]);return r;};
const toFeature=([name,c])=>({type:"Feature",properties:{name},geometry:{type:"Polygon",coordinates:[parse(c)]}});
const shapes=[...northAmerica,...southAmerica,...europe,...africa,...oceania,...asia].map(toFeature);
const rankOf=new Map(rankedCountries.map((n,i)=>[n,i]));
const fillOf=n=>rankOf.has(n)?binColors[rankBins[rankOf.get(n)]]:"#176f74";
const sorted=d3.sort(shapes,d=>rankOf.has(d.properties.name)?1:0);
svg.append("g").selectAll("path").data(sorted).join("path")
 .attr("d",path).attr("fill",d=>fillOf(d.properties.name))
 .attr("stroke",d=>rankOf.has(d.properties.name)?"#1a6c74":"#125f66").attr("stroke-width",1).attr("stroke-linejoin","round");
svg.append("g").selectAll("path").data(lakes.map(toFeature)).join("path")
 .attr("d",path).attr("fill",bg).attr("stroke","#125f66").attr("stroke-width",.8);
svg.append("text").attr("x",800).attr("y",80).attr("text-anchor","middle").attr("fill","#fff").attr("font-size",48).attr("font-weight",500).text(titleText);
svg.append("text").attr("x",800).attr("y",138).attr("text-anchor","middle").attr("fill","#fff").attr("font-size",32.3).attr("font-weight",500).text(subtitleText);
const labelX=[38,829,641,641,1336,1350,679,61,184,943,223,1340,849,333,1041,1063,1359,1398,1146,1104];
const labelY=[590,491,395,356,626,474,428,678,750,565,846,539,886,719,320,670,585,665,474,536];
rankedCountries.forEach((n,i)=>{
  const dark=n==="Бразилия"||n==="Россия";
  if(n==="Индия"){
    const t=svg.append("text").attr("text-anchor","middle").attr("fill","#fff").attr("font-size",25.2).attr("font-weight",700);
    t.append("tspan").attr("x",labelX[i]).attr("y",labelY[i]).text(`${i+1}.`);
    t.append("tspan").attr("x",labelX[i]).attr("y",labelY[i]+31).text(n);
  } else {
    svg.append("text").attr("x",labelX[i]).attr("y",labelY[i]).attr("fill",dark?"#0e5a62":"#fff").attr("font-size",25.2).attr("font-weight",700).text(labelTexts[i]);
  }
});
const legendScale=d3.scaleBand().domain(d3.range(binColors.length)).range([588,1011]);
svg.append("g").selectAll("rect").data(binColors).join("rect")
 .attr("x",(d,i)=>legendScale(i)).attr("y",1021).attr("width",legendScale.bandwidth()).attr("height",22)
 .attr("fill",d=>d).attr("stroke","#176f74").attr("stroke-width",1);
svg.append("text").attr("x",567).attr("y",1040).attr("text-anchor","end").attr("fill","#fff").attr("font-size",24.4).text(legendLow);
svg.append("text").attr("x",1028).attr("y",1040).attr("fill","#fff").attr("font-size",24.4).text(legendHigh);
svg.append("text").attr("x",23).attr("y",1091).attr("fill","#fff").attr("font-size",24.4).text(sourceText);
svg.append("text").attr("x",1340).attr("y",1098).attr("fill","#fff").attr("font-size",42.5).attr("font-weight",700).attr("textLength",184).attr("lengthAdjust","spacingAndGlyphs").style("font-family","'DejaVu Serif',serif").text("INSIDER");
svg.append("text").attr("x",1528).attr("y",1090).attr("fill","#fff").attr("font-size",22).attr("font-weight",700).attr("textLength",41).attr("lengthAdjust","spacingAndGlyphs").style("font-family","'DejaVu Serif',serif").text("PRO");
[1067,1096].forEach(y=>svg.append("rect").attr("x",1528).attr("y",y).attr("width",41).attr("height",2).attr("fill","#fff"));
</script></body></html>
